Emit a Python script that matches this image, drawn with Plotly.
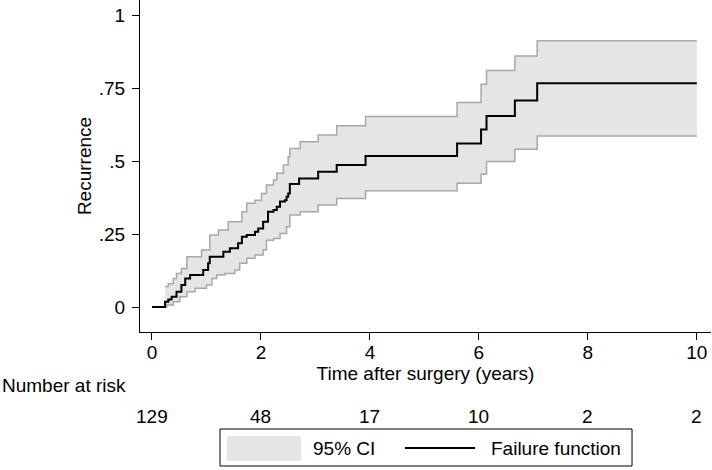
import plotly.graph_objects as go

# Failure function (Kaplan-Meier 1 - S), step times and values
time_ff = [0, 0.24, 0.30, 0.36, 0.45, 0.54, 0.61, 0.70, 0.94, 1.03, 1.06, 1.31, 1.43, 1.58,
           1.65, 1.74, 1.89, 1.95, 2.04, 2.13, 2.23, 2.29, 2.35, 2.44, 2.47, 2.50, 2.53,
           2.70, 3.05, 3.39, 3.92, 5.60, 6.04, 6.14, 6.66, 7.07, 10.0]
fail = [0, 0.018, 0.026, 0.035, 0.052, 0.075, 0.098, 0.110, 0.127, 0.150, 0.172, 0.189,
        0.201, 0.218, 0.241, 0.247, 0.258, 0.269, 0.292, 0.326, 0.332, 0.343, 0.361, 0.366,
        0.378, 0.389, 0.421, 0.440, 0.463, 0.486, 0.517, 0.560, 0.608, 0.654, 0.707, 0.766, 0.766]

# 95% CI upper bound
time_up = [0.24, 0.30, 0.39, 0.45, 0.54, 0.64, 0.91, 1.06, 1.22, 1.40, 1.65, 1.74, 1.89,
           2.01, 2.10, 2.23, 2.29, 2.41, 2.50, 2.53, 2.72, 3.05, 3.39, 3.92, 5.60, 6.04,
           6.14, 6.66, 7.07, 10.0]
ci_upper = [0.070, 0.080, 0.098, 0.115, 0.132, 0.172, 0.195, 0.247, 0.264, 0.292, 0.326,
            0.355, 0.366, 0.389, 0.418, 0.435, 0.458, 0.486, 0.515, 0.543, 0.566, 0.589,
            0.621, 0.652, 0.700, 0.763, 0.810, 0.860, 0.912, 0.912]

# 95% CI lower bound
time_lo = [0.24, 0.27, 0.39, 0.51, 0.64, 0.79, 1.00, 1.10, 1.19, 1.34, 1.52, 1.61, 1.74,
           1.89, 2.04, 2.10, 2.23, 2.35, 2.47, 2.53, 2.72, 3.05, 3.39, 3.92, 5.60, 6.04,
           6.14, 6.66, 7.07, 10.0]
ci_lower = [0.0, 0.007, 0.018, 0.035, 0.052, 0.064, 0.075, 0.098, 0.110, 0.115, 0.127,
            0.150, 0.167, 0.178, 0.195, 0.229, 0.235, 0.252, 0.275, 0.315, 0.326, 0.349,
            0.372, 0.398, 0.424, 0.455, 0.498, 0.540, 0.586, 0.586]

# Number at risk table
risk_times = [0, 2, 4, 6, 8, 10]
risk_counts = [129, 48, 17, 10, 2, 2]

# Axis ticks
x_ticks = [0, 2, 4, 6, 8, 10]
y_ticks = [0, 0.25, 0.5, 0.75, 1]
y_tick_labels = ["0", ".25", ".5", ".75", "1"]

FONT = "Liberation Sans, Arial, Helvetica, sans-serif"
FS = 19
BAND_FILL = "#e5e5e5"
BAND_EDGE = "#a8a8a8"

fig = go.Figure()
fig.add_trace(go.Scatter(x=time_lo, y=ci_lower, mode="lines",
                         line=dict(shape="hv", color=BAND_EDGE, width=1.5),
                         name="95% CI lower", showlegend=False, hoverinfo="skip"))
fig.add_trace(go.Scatter(x=time_up, y=ci_upper, mode="lines",
                         line=dict(shape="hv", color=BAND_EDGE, width=1.5),
                         fill="tonexty", fillcolor=BAND_FILL,
                         name="95% CI", showlegend=False))
fig.add_trace(go.Scatter(x=time_ff, y=fail, mode="lines",
                         line=dict(shape="hv", color="black", width=2),
                         name="Failure function", showlegend=False))

# Number at risk annotations
annotations = [dict(text="Number at risk", xref="paper", yref="paper", x=-0.2452, y=-0.1626,
                    xanchor="left", yanchor="middle", showarrow=False,
                    font=dict(size=FS, color="black", family=FONT))]
for t, n in zip(risk_times, risk_counts):
    annotations.append(dict(text=str(n), xref="x", yref="paper", x=t, y=-0.256,
                            xanchor="center", yanchor="middle", showarrow=False,
                            font=dict(size=FS, color="black", family=FONT)))

# Legend (drawn as box with swatches)
annotations.append(dict(text="95% CI", xref="paper", yref="paper", x=0.2995, y=-0.3494,
                        xanchor="left", yanchor="middle", showarrow=False,
                        font=dict(size=FS, color="black", family=FONT)))
annotations.append(dict(text="Failure function", xref="paper", yref="paper", x=0.6112, y=-0.3494,
                        xanchor="left", yanchor="middle", showarrow=False,
                        font=dict(size=FS, color="black", family=FONT)))
shapes = [
    dict(type="rect", xref="paper", yref="paper", x0=0.1401, x1=0.8617, y0=-0.2922, y1=-0.4036,
         line=dict(color="black", width=1), fillcolor="white"),
    dict(type="rect", xref="paper", yref="paper", x0=0.1524, x1=0.2820, y0=-0.3133, y1=-0.3886,
         line=dict(width=0), fillcolor=BAND_FILL),
    dict(type="line", xref="paper", yref="paper", x0=0.4641, x1=0.5867, y0=-0.3494, y1=-0.3494,
         line=dict(color="black", width=2)),
]

fig.update_layout(
    width=712, height=470,
    margin=dict(l=140, r=1, t=0, b=138),
    paper_bgcolor="white", plot_bgcolor="white",
    font=dict(family=FONT, size=FS, color="black"),
    annotations=annotations, shapes=shapes,
    xaxis=dict(range=[-0.22, 10.26], tickvals=x_ticks, ticks="outside", ticklen=7,
               tickcolor="black", showline=True, linecolor="black", linewidth=1,
               showgrid=False, zeroline=False, tickfont=dict(size=FS), ticklabelstandoff=-4,
               title=dict(text="Time after surgery (years)", standoff=2,
                          font=dict(size=FS, family=FONT))),
    yaxis=dict(range=[-0.0856, 1.0514], tickvals=y_ticks, ticktext=y_tick_labels,
               ticks="outside", ticklen=7, tickcolor="black", showline=True,
               linecolor="black", linewidth=1, showgrid=False, zeroline=False,
               tickfont=dict(size=FS), ticklabelstandoff=3,
               title=dict(text="Recurrence", standoff=2, font=dict(size=FS, family=FONT))),
)

fig.write_html("out.html", config={"displayModeBar": False},
               post_script="document.body.style.margin='0px';")
